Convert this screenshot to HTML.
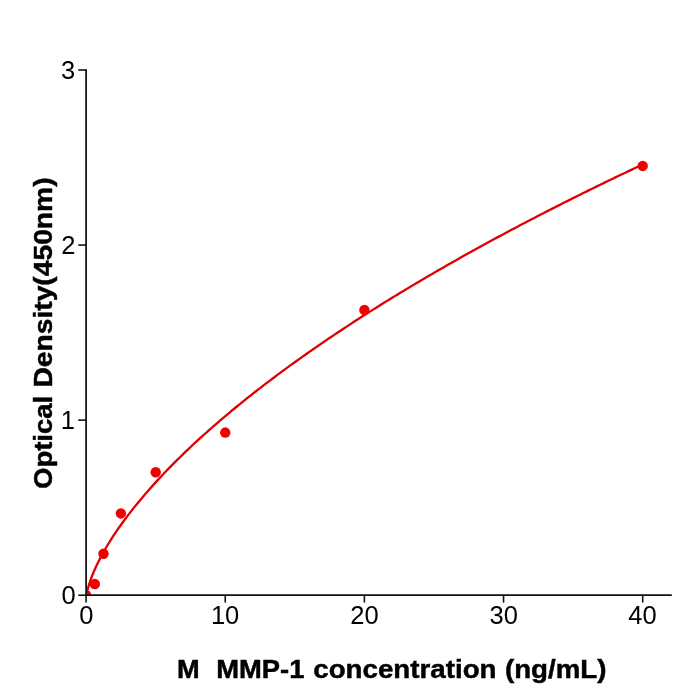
<!DOCTYPE html>
<html><head><meta charset="utf-8"><style>
html,body{margin:0;padding:0;background:#fff;width:700px;height:700px;overflow:hidden}
svg{display:block;will-change:transform}
text{font-family:"Liberation Sans",sans-serif}
</style></head><body>
<svg width="700" height="700" viewBox="0 0 700 700">
<defs><clipPath id="ax"><rect x="86.1" y="70.0" width="585.70" height="525.20"/></clipPath></defs>
<rect width="700" height="700" fill="#fff"/>
<g clip-path="url(#ax)">
<path d="M86.10,598.71 L86.80,593.33 L87.49,590.14 L88.19,587.46 L88.88,585.06 L89.58,582.85 L90.27,580.79 L90.97,578.83 L91.67,576.97 L92.36,575.19 L93.06,573.47 L93.75,571.80 L94.45,570.19 L95.14,568.62 L95.84,567.09 L96.54,565.60 L97.23,564.14 L97.93,562.72 L98.62,561.32 L99.32,559.94 L100.02,558.59 L100.71,557.26 L103.43,552.26 L106.16,547.53 L108.88,543.00 L111.61,538.67 L114.33,534.49 L117.05,530.44 L119.78,526.52 L122.50,522.71 L125.22,519.00 L127.95,515.38 L130.67,511.84 L133.39,508.38 L136.12,504.99 L138.84,501.66 L141.56,498.40 L144.29,495.19 L147.01,492.03 L149.73,488.93 L152.46,485.87 L155.18,482.86 L157.91,479.89 L160.63,476.97 L163.35,474.08 L166.08,471.23 L168.80,468.41 L171.52,465.63 L174.25,462.88 L176.97,460.17 L179.69,457.48 L182.42,454.82 L185.14,452.19 L187.86,449.59 L190.59,447.01 L193.31,444.46 L196.04,441.93 L198.76,439.43 L201.48,436.95 L204.21,434.49 L206.93,432.05 L209.65,429.64 L212.38,427.24 L215.10,424.86 L217.82,422.51 L220.55,420.17 L223.27,417.85 L225.99,415.55 L228.72,413.26 L231.44,410.99 L234.17,408.74 L236.89,406.50 L239.61,404.28 L242.34,402.08 L245.06,399.89 L247.78,397.71 L250.51,395.55 L253.23,393.41 L255.95,391.27 L258.68,389.16 L261.40,387.05 L264.12,384.96 L266.85,382.87 L269.57,380.81 L272.30,378.75 L275.02,376.71 L277.74,374.67 L280.47,372.65 L283.19,370.64 L285.91,368.65 L288.64,366.66 L291.36,364.68 L294.08,362.72 L296.81,360.76 L299.53,358.82 L302.25,356.88 L304.98,354.96 L307.70,353.04 L310.43,351.13 L313.15,349.24 L315.87,347.35 L318.60,345.47 L321.32,343.60 L324.04,341.74 L326.77,339.89 L329.49,338.05 L332.21,336.21 L334.94,334.39 L337.66,332.57 L340.38,330.76 L343.11,328.96 L345.83,327.16 L348.56,325.38 L351.28,323.60 L354.00,321.83 L356.73,320.07 L359.45,318.31 L362.17,316.56 L364.90,314.82 L367.62,313.09 L370.34,311.36 L373.07,309.64 L375.79,307.93 L378.51,306.22 L381.24,304.52 L383.96,302.83 L386.68,301.14 L389.41,299.46 L392.13,297.79 L394.86,296.12 L397.58,294.46 L400.30,292.81 L403.03,291.16 L405.75,289.52 L408.47,287.88 L411.20,286.25 L413.92,284.63 L416.64,283.01 L419.37,281.39 L422.09,279.79 L424.81,278.19 L427.54,276.59 L430.26,275.00 L432.99,273.41 L435.71,271.83 L438.43,270.26 L441.16,268.69 L443.88,267.13 L446.60,265.57 L449.33,264.01 L452.05,262.46 L454.77,260.92 L457.50,259.38 L460.22,257.85 L462.94,256.32 L465.67,254.80 L468.39,253.28 L471.12,251.76 L473.84,250.25 L476.56,248.75 L479.29,247.25 L482.01,245.75 L484.73,244.26 L487.46,242.78 L490.18,241.29 L492.90,239.82 L495.63,238.34 L498.35,236.87 L501.07,235.41 L503.80,233.95 L506.52,232.49 L509.25,231.04 L511.97,229.59 L514.69,228.15 L517.42,226.71 L520.14,225.28 L522.86,223.85 L525.59,222.42 L528.31,221.00 L531.03,219.58 L533.76,218.16 L536.48,216.75 L539.20,215.34 L541.93,213.94 L544.65,212.54 L547.38,211.14 L550.10,209.75 L552.82,208.36 L555.55,206.98 L558.27,205.60 L560.99,204.22 L563.72,202.84 L566.44,201.47 L569.16,200.11 L571.89,198.74 L574.61,197.38 L577.33,196.03 L580.06,194.67 L582.78,193.32 L585.51,191.98 L588.23,190.64 L590.95,189.30 L593.68,187.96 L596.40,186.63 L599.12,185.30 L601.85,183.97 L604.57,182.65 L607.29,181.33 L610.02,180.01 L612.74,178.70 L615.46,177.39 L618.19,176.08 L620.91,174.78 L623.64,173.48 L626.36,172.18 L629.08,170.89 L631.81,169.59 L634.53,168.31 L637.25,167.02 L639.98,165.74 L642.70,164.46" fill="none" stroke="#e00000" stroke-width="2.3" stroke-linejoin="round"/>
<g fill="#f20000"><circle cx="86.10" cy="595.20" r="5.2"/><circle cx="94.80" cy="584.00" r="5.2"/><circle cx="103.49" cy="553.71" r="5.2"/><circle cx="120.89" cy="513.44" r="5.2"/><circle cx="155.68" cy="472.30" r="5.2"/><circle cx="225.25" cy="432.56" r="5.2"/><circle cx="364.40" cy="310.02" r="5.2"/><circle cx="642.70" cy="165.94" r="5.2"/></g>
</g>
<g stroke="#111" stroke-width="1.75" fill="none">
<line x1="86.1" y1="69.2" x2="86.1" y2="595.2"/>
<line x1="86.1" y1="595.2" x2="671.8" y2="595.2"/>
</g>
<g stroke="#111" stroke-width="1.6"><line x1="86.10" y1="595.20" x2="86.10" y2="602.6"/><line x1="225.25" y1="595.20" x2="225.25" y2="602.6"/><line x1="364.40" y1="595.20" x2="364.40" y2="602.6"/><line x1="503.55" y1="595.20" x2="503.55" y2="602.6"/><line x1="642.70" y1="595.20" x2="642.70" y2="602.6"/><line x1="78.3" y1="595.20" x2="86.10" y2="595.20"/><line x1="78.3" y1="420.13" x2="86.10" y2="420.13"/><line x1="78.3" y1="245.07" x2="86.10" y2="245.07"/><line x1="78.3" y1="70.00" x2="86.10" y2="70.00"/></g>
<g font-size="25.5" fill="#000"><text x="79.17" y="623.5">0</text><text x="210.93" y="623.5">10</text><text x="350.25" y="623.5">20</text><text x="489.48" y="623.5">30</text><text x="628.23" y="623.5">40</text><text x="61.47" y="604.20">0</text><text x="60.65" y="429.13">1</text><text x="61.17" y="254.07">2</text><text x="61.00" y="79.00">3</text></g>
<g font-size="25.8" font-weight="bold" fill="#000" stroke="#000" stroke-width="0.45"><text x="177.09" y="677.7" textLength="22.67" lengthAdjust="spacingAndGlyphs">M</text><text x="216.24" y="677.7" textLength="88.12" lengthAdjust="spacingAndGlyphs">MMP-1</text><text x="313.23" y="677.7" textLength="183.36" lengthAdjust="spacingAndGlyphs">concentration</text><text x="504.96" y="677.7" textLength="101.55" lengthAdjust="spacingAndGlyphs">(ng/mL)</text></g>
<g transform="translate(51.9,0) rotate(-90)" font-size="25.8" font-weight="bold" fill="#000" stroke="#000" stroke-width="0.45"><text x="-488.96" y="0" textLength="93.03" lengthAdjust="spacingAndGlyphs">Optical</text><text x="-387.61" y="0" textLength="210.20" lengthAdjust="spacingAndGlyphs">Density(450nm)</text></g>
</svg>
</body></html>
